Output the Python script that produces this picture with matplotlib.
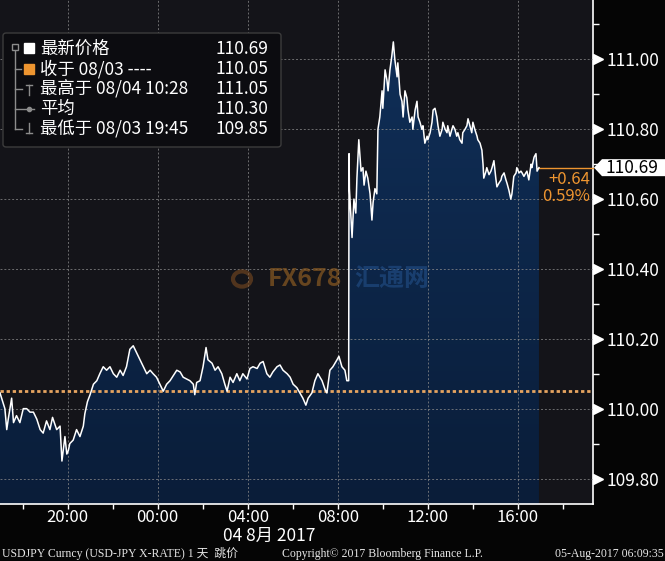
import numpy as np
import pandas as pd
import matplotlib
matplotlib.use('Agg')
import matplotlib.pyplot as plt
import matplotlib.dates as mdates
import matplotlib.transforms as mtransforms
from matplotlib.ticker import MultipleLocator, FormatStrFormatter
from matplotlib.patches import FancyBboxPatch, Polygon, Circle
from matplotlib.lines import Line2D
from matplotlib.colors import LinearSegmentedColormap

plt.rcParams['font.family'] = ['Noto Sans CJK SC', 'DejaVu Sans']

# 데이터: 2017-08-03 17:00 부터 경과 분, USDJPY 가격
minutes = [0, 13, 18, 22, 31, 36, 44, 53, 62, 71, 80, 89, 98, 107, 115, 124, 133, 140, 151, 160,
           165, 173, 178, 182, 186, 195, 204, 213, 222, 226, 233, 240, 249, 258, 266, 275, 284, 293, 302, 311,
           320, 328, 337, 346, 355, 364, 373, 382, 391, 400, 408, 417, 426, 435, 444, 453, 462, 471, 480, 488,
           497, 506, 515, 519, 524, 533, 541, 549, 554, 565, 573, 581, 591, 599, 605, 613, 621, 631, 639, 647,
           658, 666, 674, 685, 693, 701, 711, 719, 727, 738, 746, 754, 765, 773, 781, 791, 799, 807, 815, 821,
           831, 839, 847, 858, 866, 871, 879, 887, 898, 903, 911, 919, 924, 929, 930, 931, 934, 938, 943, 948,
           951, 956, 962, 967, 970, 975, 980, 986, 991, 994, 999, 1004, 1007, 1012, 1018, 1020, 1026, 1031, 1034, 1039,
           1044, 1048, 1052, 1058, 1060, 1066, 1071, 1074, 1079, 1084, 1087, 1092, 1098, 1100, 1106, 1111, 1114, 1119, 1124, 1127,
           1132, 1138, 1140, 1146, 1151, 1154, 1159, 1164, 1167, 1172, 1178, 1180, 1186, 1191, 1193, 1199, 1204, 1207, 1212, 1217,
           1220, 1225, 1231, 1233, 1239, 1244, 1247, 1252, 1257, 1260, 1265, 1271, 1273, 1279, 1284, 1287, 1289, 1295, 1297, 1303,
           1308, 1311, 1316, 1321, 1324, 1329, 1335, 1337, 1343, 1348, 1351, 1356, 1361, 1364, 1369, 1375, 1377, 1383, 1388, 1391,
           1396, 1401, 1404, 1409, 1415, 1417, 1423, 1428, 1431, 1436]
prices = [110.045, 110.00, 109.94, 109.97, 110.03, 109.96, 109.98, 109.96, 110.00, 110.00,
          109.99, 109.99, 109.97, 109.94, 109.93, 109.965, 109.94, 109.975, 109.94, 109.95,
          109.85, 109.92, 109.87, 109.88, 109.90, 109.91, 109.94, 109.92, 109.95, 109.985,
          110.02, 110.04, 110.07, 110.08, 110.10, 110.12, 110.11, 110.12, 110.10, 110.09,
          110.11, 110.095, 110.12, 110.17, 110.18, 110.16, 110.14, 110.12, 110.10, 110.11,
          110.10, 110.09, 110.07, 110.05, 110.07, 110.08, 110.095, 110.11, 110.105, 110.09,
          110.085, 110.08, 110.07, 110.04, 110.075, 110.08, 110.12, 110.175, 110.14, 110.13,
          110.11, 110.12, 110.10, 110.07, 110.05, 110.09, 110.075, 110.10, 110.08, 110.10,
          110.085, 110.115, 110.12, 110.115, 110.13, 110.135, 110.10, 110.09, 110.105, 110.12,
          110.125, 110.11, 110.10, 110.09, 110.07, 110.06, 110.045, 110.03, 110.01, 110.03,
          110.045, 110.08, 110.10, 110.08, 110.055, 110.045, 110.11, 110.12, 110.14, 110.15,
          110.12, 110.11, 110.08, 110.08, 110.73, 110.63, 110.57, 110.49, 110.60, 110.56,
          110.66, 110.77, 110.68, 110.69, 110.64, 110.68, 110.66, 110.615, 110.54, 110.59,
          110.63, 110.615, 110.80, 110.835, 110.91, 110.86, 110.97, 110.94, 110.91, 110.97,
          111.01, 111.05, 111.00, 110.95, 110.99, 110.90, 110.88, 110.835, 110.91, 110.89,
          110.855, 110.82, 110.835, 110.80, 110.855, 110.88, 110.835, 110.82, 110.80, 110.81,
          110.76, 110.78, 110.77, 110.79, 110.82, 110.855, 110.86, 110.835, 110.81, 110.78,
          110.80, 110.82, 110.80, 110.79, 110.81, 110.78, 110.80, 110.81, 110.80, 110.78,
          110.79, 110.77, 110.76, 110.79, 110.80, 110.81, 110.83, 110.81, 110.79, 110.82,
          110.80, 110.78, 110.77, 110.76, 110.74, 110.70, 110.66, 110.68, 110.69, 110.67,
          110.68, 110.69, 110.71, 110.66, 110.635, 110.645, 110.655, 110.665, 110.675, 110.655,
          110.645, 110.625, 110.60, 110.615, 110.665, 110.675, 110.69, 110.675, 110.68, 110.675,
          110.665, 110.675, 110.68, 110.655, 110.70, 110.69, 110.72, 110.73, 110.68, 110.69]

prev_close = 110.05
change_txt = ['+0.64', '0.59%']
legend_lbl = ['最新价格', '收于 08/03 ----', '最高于 08/04 10:28', '平均', '最低于 08/03 19:45']
legend_val = [110.69, 110.05, 111.05, 110.30, 109.85]

W, H = 665, 561
BG = '#050505'
PLOT_BG = '#141419'
ORANGE = '#ee9530'

def px(x, y):
    return x / W, 1 - y / H

fig = plt.figure(figsize=(W / 100, H / 100), dpi=100, facecolor=BG)
ax = fig.add_axes([0, 57 / H, 593 / W, 1 - 57 / H])
ax.set_facecolor(PLOT_BG)

times = pd.Timestamp('2017-08-03 17:00') + pd.to_timedelta(minutes, unit='min')
xs = mdates.date2num(times.to_pydatetime())
ys = np.array(prices)
last = ys[-1]

y_lo, y_hi = 109.727, 111.170
x_lo = mdates.date2num(pd.Timestamp('2017-08-03 17:00'))
x_hi = mdates.date2num(pd.Timestamp('2017-08-04 19:20'))

# 그라데이션 채우기
cmap = LinearSegmentedColormap.from_list('fill', ['#0a1d39', '#10305a'])
grad = np.linspace(1, 0, 256).reshape(-1, 1)
im = ax.imshow(grad, extent=[xs[0], xs[-1], y_lo, y_hi], aspect='auto', cmap=cmap,
               origin='upper', zorder=1)
poly = ax.fill_between(xs, ys, y_lo, facecolor='none', lw=0)
im.set_clip_path(poly.get_paths()[0], ax.transData)

ax.plot(xs, ys, color='white', lw=1.1, zorder=4)
ax.axhline(prev_close, color='#e6a460', ls=(0, (1.2, 1.0)), lw=2, zorder=3)
ax.plot([xs[-1], x_hi], [last, last], color=ORANGE, lw=1, zorder=3, clip_on=False)

ax.set_xlim(x_lo, x_hi)
ax.set_ylim(y_lo, y_hi)

# 축 설정
ax.xaxis.set_major_locator(mdates.HourLocator(byhour=[0, 4, 8, 12, 16, 20]))
ax.xaxis.set_minor_locator(mdates.HourLocator(byhour=[2, 6, 10, 14, 18, 22]))
ax.xaxis.set_major_formatter(mdates.DateFormatter('%H:%M'))
ax.tick_params(axis='x', which='both', length=3.5, width=1, color='white', direction='out',
               labelsize=12, labelcolor='white', pad=0)

ax.yaxis.tick_right()
ax.yaxis.set_major_locator(MultipleLocator(0.2))
ax.yaxis.set_minor_locator(MultipleLocator(0.1))
ax.yaxis.set_major_formatter(FormatStrFormatter('%.2f'))
ax.tick_params(axis='y', which='major', length=0, pad=10, labelsize=12.5, labelcolor='white')
ax.tick_params(axis='y', which='minor', length=4, width=1, color='white', direction='out')

for s in ['left', 'top']:
    ax.spines[s].set_visible(False)
for s in ['right', 'bottom']:
    ax.spines[s].set_color('white')
    ax.spines[s].set_linewidth(1.2)

ax.grid(True, which='major', color='#8a8a8a', ls=(0, (2, 2)), lw=0.7, alpha=0.75)
ax.set_axisbelow(False)

# 오른쪽 축 삼각형 마커
blend = mtransforms.blended_transform_factory(ax.transAxes, ax.transData)
tri_trans = blend + mtransforms.ScaledTranslation(3.6 / 72, 0, fig.dpi_scale_trans)
yt = [v for v in ax.get_yticks() if y_lo <= v <= y_hi]
ax.plot(np.ones(len(yt)), yt, ls='none', marker='>', ms=7, color='white',
        transform=tri_trans, clip_on=False, zorder=5)

# 현재가 태그
tag_trans = mtransforms.Affine2D().scale(fig.dpi / 100) + mtransforms.ScaledTranslation(1, last, blend)
tag = Polygon([(1, 0), (9, 8.5), (72, 8.5), (72, -8.5), (9, -8.5)], closed=True,
              transform=tag_trans, fc='white', ec='none', clip_on=False, zorder=6)
ax.add_artist(tag)
ax.annotate(f'{last:.2f}', xy=(1, last), xycoords=blend, xytext=(39 * 0.72, 0),
            textcoords='offset points', ha='center', va='center', color='black',
            fontsize=12.5, annotation_clip=False, zorder=7)
ax.annotate(change_txt[0], xy=(1, last), xycoords=blend, xytext=(-2, -8.5),
            textcoords='offset points', ha='right', va='center', color=ORANGE, fontsize=12)
ax.annotate(change_txt[1], xy=(1, last), xycoords=blend, xytext=(-2, -21),
            textcoords='offset points', ha='right', va='center', color=ORANGE, fontsize=12)

# 워터마크
fig.add_artist(Circle(px(242, 279), 9 / W, transform=fig.transFigure, fill=False,
                      ec='#7a4a20', lw=3, alpha=0.6))
fig.text(*px(268, 279), 'FX678', color='#8a5a22', alpha=0.7, fontsize=18, fontweight='bold',
         va='center', ha='left')
fig.text(*px(354, 279), '汇通网', color='#1f4a80', alpha=0.7, fontsize=18, fontweight='bold',
         va='center', ha='left')

# 범례 상자
box = FancyBboxPatch(px(3, 147), 278 / W, 114 / H, boxstyle='round,pad=0,rounding_size=0.005',
                     transform=fig.transFigure, fc='#0c0c10', ec='#3c3c3c', lw=1, zorder=10)
fig.add_artist(box)
row_y = [49, 69, 89, 109, 129]
for lbl, val, ry in zip(legend_lbl, legend_val, row_y):
    fig.text(*px(40, ry), lbl, color='white', fontsize=12.5, va='center', ha='left', zorder=11)
    fig.text(*px(268, ry), f'{val:.2f}', color='white', fontsize=12.5, va='center', ha='right', zorder=11)

GREY = '#8c8c8c'
def seg(x0, y0, x1, y1, c=GREY, lw=1):
    a, b = px(x0, y0)
    c2, d = px(x1, y1)
    fig.add_artist(Line2D([a, c2], [b, d], color=c, lw=lw, transform=fig.transFigure, zorder=11))

def mark(x, y, **kw):
    fig.add_artist(Line2D([px(x, y)[0]], [px(x, y)[1]], transform=fig.transFigure, zorder=11, **kw))

seg(15, 51, 15, 129)
mark(15, 47, marker='s', ms=4.5, mfc='none', mec=GREY, ls='none')
mark(29, 48, marker='s', ms=7.5, color='white', ls='none')
seg(15, 69, 21, 69)
mark(29, 69, marker='s', ms=7.5, color=ORANGE, ls='none')
seg(15, 89, 22, 89)
seg(29, 85, 29, 95)
seg(26, 85, 32, 85)
seg(15, 109, 34, 109)
mark(29, 109, marker='o', ms=3, color=GREY, ls='none')
seg(15, 129, 22, 129)
seg(29, 123, 29, 133)
seg(26, 133, 32, 133)

# 날짜 및 하단 문구
fig.text(*px(269, 536), '04 8月 2017', color='white', fontsize=12.5, ha='center', va='center')
foot = ['Liberation Serif', 'Noto Sans CJK SC']
fig.text(*px(2, 554), 'USDJPY Curncy (USD-JPY X-RATE) 1 天  跳价', family=foot, color='#e6e6e6',
         fontsize=8.5, ha='left', va='center')
fig.text(*px(282, 554), 'Copyright© 2017 Bloomberg Finance L.P.', family=foot, color='#e6e6e6',
         fontsize=8.5, ha='left', va='center')
fig.text(*px(664, 554), '05-Aug-2017 06:09:35', family=foot, color='#e6e6e6',
         fontsize=8.5, ha='right', va='center')

fig.savefig('out.png', dpi=100, facecolor=BG)
